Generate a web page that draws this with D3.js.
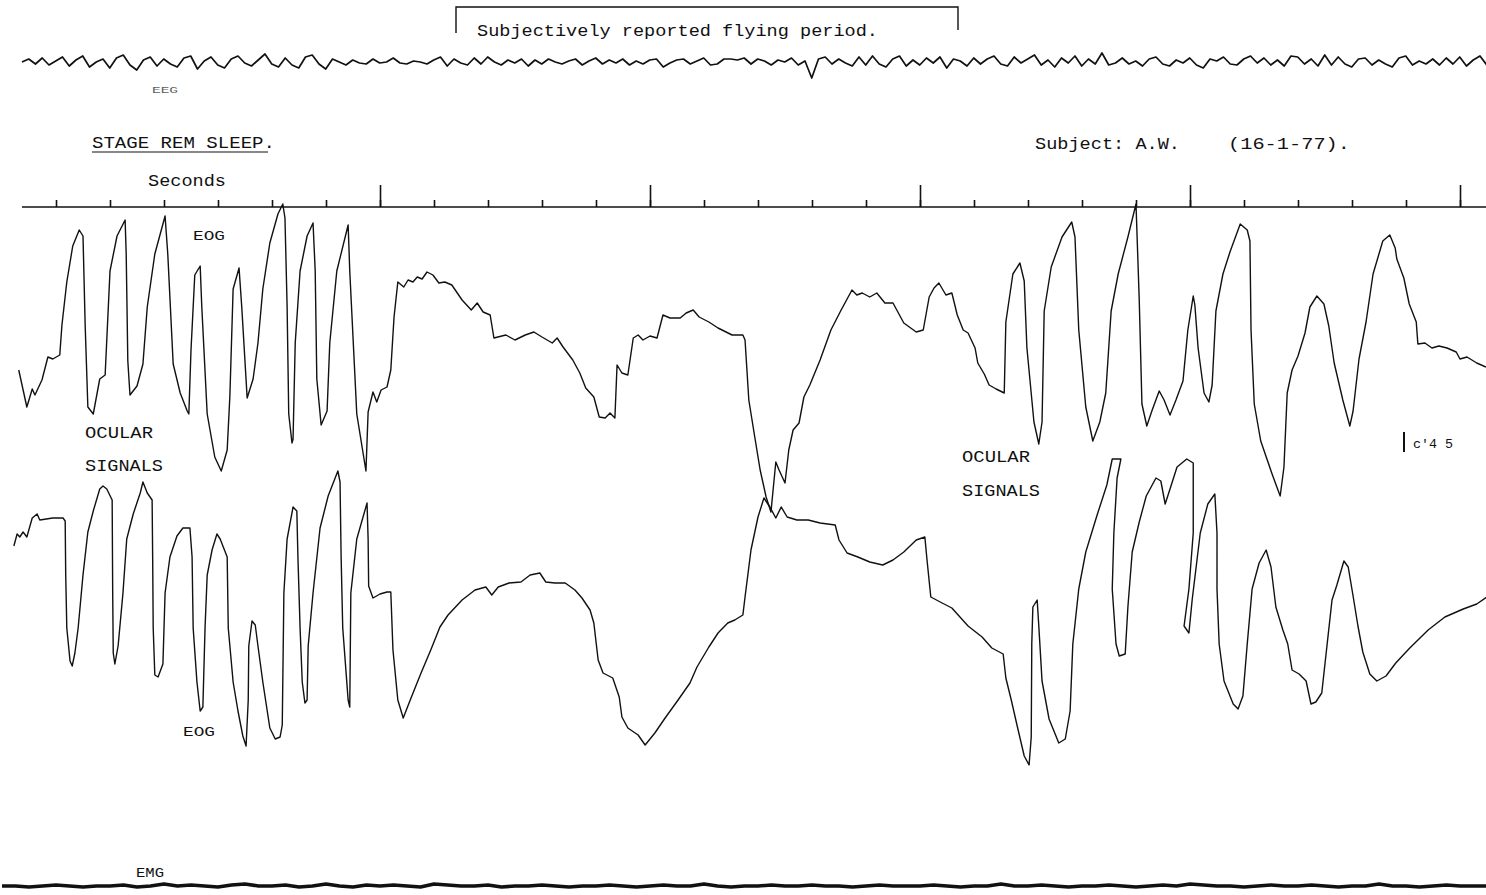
<!DOCTYPE html>
<html lang="en">
<head>
<meta charset="utf-8">
<title>Stage REM sleep - ocular signals</title>
<script src="https://cdn.jsdelivr.net/npm/d3@7"></script>
<style>
  html, body { margin: 0; padding: 0; background: #fff; }
  svg text { font-family: "Liberation Mono", "DejaVu Sans Mono", monospace; fill: #111; }
</style>
</head>
<body>
<script>
// ---- data (time in seconds, amplitude in arbitrary pen units) ----
var secondTicks = d3.range(1, 28);
var majorTicks = [7, 12, 17, 22, 27];

// upper EOG channel [t, deflection]
var eogUpper = [[0.31,-30],[0.46,-67],[0.56,-49],[0.61,-55],[0.74,-40],[0.85,-17],[0.94,-19],[1.07,-15],[1.11,15],[1.20,58],[1.31,94],[1.43,110],[1.50,104],[1.54,15],[1.59,-67],[1.69,-74],[1.81,-39],[1.91,-35],[2.00,69],[2.13,104],[2.28,120],[2.30,86],[2.33,-21],[2.37,-55],[2.50,-46],[2.61,-24],[2.69,33],[2.83,86],[3.02,124],[3.07,86],[3.17,-24],[3.30,-53],[3.43,-71],[3.46,-74],[3.50,-10],[3.57,65],[3.67,74],[3.70,33],[3.80,-74],[3.94,-117],[4.06,-131],[4.17,-110],[4.22,-56],[4.28,51],[4.39,72],[4.44,33],[4.54,-58],[4.65,-39],[4.74,-3],[4.83,51],[4.96,97],[5.11,126],[5.20,136],[5.24,122],[5.28,33],[5.31,-74],[5.37,-103],[5.39,-99],[5.43,-3],[5.52,69],[5.65,104],[5.76,117],[5.80,69],[5.83,-39],[5.91,-85],[6.02,-71],[6.07,-3],[6.20,69],[6.41,115],[6.44,69],[6.57,-74],[6.74,-131],[6.78,-72],[6.87,-52],[6.94,-62],[7.02,-50],[7.13,-47],[7.20,-30],[7.26,23],[7.33,58],[7.44,53],[7.52,60],[7.61,58],[7.69,63],[7.78,61],[7.87,68],[7.98,65],[8.09,57],[8.20,58],[8.33,55],[8.52,40],[8.69,30],[8.80,37],[8.91,28],[9.04,25],[9.11,2],[9.33,5],[9.50,0],[9.69,5],[9.85,8],[10.00,3],[10.19,-3],[10.28,2],[10.39,-7],[10.57,-20],[10.70,-33],[10.81,-48],[10.96,-57],[11.06,-77],[11.17,-78],[11.26,-73],[11.35,-78],[11.39,-25],[11.48,-33],[11.59,-35],[11.69,2],[11.78,5],[11.87,0],[12.00,4],[12.13,2],[12.24,25],[12.37,22],[12.56,22],[12.67,27],[12.80,30],[12.91,23],[13.09,18],[13.26,12],[13.52,5],[13.72,5],[13.76,0],[13.83,-60],[13.94,-97],[14.04,-130],[14.15,-157],[14.24,-172],[14.33,-122],[14.39,-130],[14.50,-143],[14.57,-110],[14.65,-90],[14.76,-83],[14.85,-57],[14.96,-45],[15.15,-20],[15.35,10],[15.54,30],[15.74,50],[15.83,45],[15.93,47],[16.07,43],[16.20,47],[16.35,37],[16.50,37],[16.70,17],[16.93,8],[17.06,10],[17.17,43],[17.26,52],[17.35,57],[17.48,45],[17.59,47],[17.69,25],[17.80,10],[17.89,7],[18.02,-8],[18.07,-23],[18.19,-34],[18.28,-45],[18.41,-49],[18.56,-53],[18.59,18],[18.72,66],[18.85,77],[18.93,59],[18.98,-8],[19.11,-82],[19.20,-104],[19.26,-82],[19.30,29],[19.43,73],[19.63,103],[19.81,118],[19.87,103],[19.94,10],[20.07,-67],[20.20,-101],[20.33,-82],[20.44,-53],[20.54,29],[20.67,66],[20.85,103],[21.00,136],[21.06,40],[21.11,-64],[21.20,-86],[21.30,-70],[21.43,-51],[21.52,-60],[21.63,-75],[21.74,-60],[21.87,-41],[21.96,10],[22.06,44],[22.09,35],[22.15,-8],[22.26,-53],[22.35,-62],[22.41,-45],[22.48,29],[22.61,66],[22.74,88],[22.93,116],[23.06,110],[23.11,99],[23.13,10],[23.19,-64],[23.31,-101],[23.52,-134],[23.67,-156],[23.74,-127],[23.80,-53],[23.89,-30],[24.00,-16],[24.13,7],[24.22,33],[24.35,44],[24.48,36],[24.57,14],[24.67,-23],[24.83,-60],[24.96,-86],[25.02,-71],[25.13,-19],[25.26,18],[25.39,66],[25.57,99],[25.70,105],[25.80,92],[25.83,81],[25.96,62],[26.06,36],[26.19,18],[26.22,-4],[26.35,-3],[26.48,-8],[26.61,-6],[26.76,-8],[26.93,-12],[27.00,-19],[27.13,-17],[27.31,-23],[27.48,-27]];

// lower EOG channel [t, deflection]
var eogLower = [[0.22,74],[0.28,86],[0.33,83],[0.39,88],[0.46,83],[0.56,102],[0.65,106],[0.70,100],[0.94,102],[1.13,102],[1.17,99],[1.18,45],[1.20,-8],[1.26,-41],[1.30,-46],[1.35,-33],[1.41,-8],[1.50,45],[1.59,88],[1.69,109],[1.81,131],[1.87,134],[1.94,131],[2.04,120],[2.05,27],[2.06,-33],[2.09,-44],[2.15,-26],[2.24,27],[2.31,81],[2.43,106],[2.56,127],[2.61,138],[2.69,127],[2.78,120],[2.79,63],[2.80,-8],[2.83,-55],[2.89,-57],[2.98,-44],[3.02,27],[3.11,63],[3.24,84],[3.35,92],[3.48,92],[3.52,63],[3.54,-8],[3.61,-62],[3.67,-91],[3.72,-87],[3.76,-8],[3.80,45],[3.89,70],[3.98,86],[4.04,81],[4.17,63],[4.19,-8],[4.28,-62],[4.37,-91],[4.46,-116],[4.52,-126],[4.56,-80],[4.57,-26],[4.63,-1],[4.69,-5],[4.74,-26],[4.83,-62],[4.96,-108],[5.06,-119],[5.15,-117],[5.19,-105],[5.22,27],[5.28,81],[5.39,113],[5.46,109],[5.48,63],[5.52,-8],[5.56,-62],[5.61,-83],[5.65,-80],[5.67,-26],[5.76,27],[5.89,92],[6.04,124],[6.22,149],[6.26,138],[6.28,63],[6.31,-8],[6.41,-80],[6.44,-87],[6.46,27],[6.57,81],[6.76,117],[6.78,81],[6.79,34],[6.87,22],[7.00,26],[7.13,28],[7.20,28],[7.24,-30],[7.33,-80],[7.43,-98],[7.56,-80],[7.76,-53],[7.94,-30],[8.11,-7],[8.26,5],[8.52,20],[8.76,30],[8.96,33],[9.07,25],[9.19,33],[9.39,37],[9.61,38],[9.78,45],[9.96,47],[10.07,38],[10.24,37],[10.43,37],[10.61,30],[10.74,22],[10.89,10],[10.96,-3],[11.04,-40],[11.13,-53],[11.31,-58],[11.43,-77],[11.48,-97],[11.59,-108],[11.78,-115],[11.91,-125],[12.09,-113],[12.28,-98],[12.52,-80],[12.74,-63],[12.87,-47],[13.09,-27],[13.26,-13],[13.44,-3],[13.57,0],[13.72,5],[13.76,23],[13.87,70],[14.00,103],[14.11,122],[14.22,113],[14.33,102],[14.43,113],[14.54,103],[14.72,100],[14.93,100],[15.15,97],[15.43,95],[15.50,80],[15.65,67],[15.85,63],[16.07,58],[16.31,55],[16.50,60],[16.70,68],[16.93,80],[17.09,83],[17.13,60],[17.20,23],[17.41,17],[17.59,12],[17.89,-6],[18.15,-17],[18.33,-28],[18.54,-34],[18.59,-58],[18.69,-80],[18.80,-106],[18.93,-136],[19.02,-145],[19.06,-117],[19.07,-24],[19.09,13],[19.17,20],[19.20,-6],[19.26,-61],[19.39,-99],[19.57,-123],[19.69,-119],[19.78,-91],[19.83,-24],[19.94,31],[20.07,68],[20.28,105],[20.46,135],[20.56,161],[20.72,161],[20.65,142],[20.59,87],[20.56,31],[20.63,-24],[20.69,-36],[20.80,-34],[20.85,13],[20.93,68],[21.06,98],[21.19,124],[21.37,142],[21.46,139],[21.54,116],[21.63,131],[21.76,153],[21.94,161],[22.06,157],[22.06,87],[21.98,31],[21.89,-6],[21.98,-13],[22.04,20],[22.19,87],[22.33,116],[22.46,126],[22.50,87],[22.50,31],[22.54,-24],[22.63,-61],[22.80,-84],[22.89,-89],[22.98,-76],[23.06,-24],[23.15,31],[23.28,57],[23.41,70],[23.50,53],[23.59,13],[23.72,-10],[23.81,-24],[23.89,-50],[24.02,-54],[24.15,-61],[24.24,-84],[24.33,-82],[24.44,-73],[24.54,-24],[24.63,20],[24.72,35],[24.85,59],[24.93,53],[25.02,24],[25.11,-6],[25.20,-32],[25.33,-54],[25.46,-61],[25.63,-56],[25.81,-43],[26.07,-28],[26.41,-10],[26.72,3],[27.06,11],[27.31,16],[27.50,23]];

// EEG, one reading every 0.125 s from t = 0.37
var eegStart = 0.37, eegStep = 0.125;
var eeg = [
  0,3,-2,4,-3,1,5,-4,2,6,-5,0,
  3,-6,4,7,-3,-8,2,5,-4,3,-2,-5,
  4,6,-7,1,5,-3,-6,3,6,-1,-4,2,
  8,-2,-5,4,-3,-6,5,7,-2,-7,3,0,
  -3,2,-1,-2,3,-1,0,4,-1,-2,1,0,
  -2,2,5,-4,3,-1,-3,4,-2,5,0,-3,
  2,-1,3,-4,2,-2,3,0,-2,1,3,-3,
  1,4,-2,2,-1,3,-3,1,-2,2,3,-5,
  -1,2,3,-2,1,4,-3,-2,3,3,2,4,
  -2,3,1,-3,2,0,4,-3,1,-16,3,5,
  -2,3,-1,-4,5,-3,6,-2,-5,3,6,-4,
  2,-3,4,-1,5,-6,3,1,-4,4,-2,3,
  6,-2,-4,5,-1,3,7,-3,2,-5,4,-1,
  6,-4,3,-2,9,-3,-1,4,-2,1,-4,3,
  5,-2,-4,2,-1,4,-3,-6,3,1,5,-2,
  -3,3,6,-1,4,-3,2,-4,6,5,-2,3,
  -4,7,-3,5,-2,-5,3,4,-3,2,-2,-5,
  4,6,-3,1,-2,3,-3,4,-2,5,-4,2,
  6,-3,1,-2
];

// EMG, one reading every 0.25 s from t = 0
var emgStep = 0.25;
var emg = [
  1,1,0,1,2,1,0,1,1,2,0,1,3,1,2,1,0,2,3,1,
  1,2,0,1,3,1,0,2,1,2,1,0,3,2,1,1,2,0,1,1,
  2,1,0,1,1,2,1,0,1,2,1,1,3,1,0,1,1,2,1,1,
  2,1,1,0,1,2,1,1,1,2,1,0,1,1,3,1,1,2,1,0,
  1,1,2,1,0,1,2,1,3,2,1,1,0,1,2,1,1,2,1,0,
  1,1,3,1,1,0,1,2,1,1,1
];

// ---- drawing ----
var W = 1486, H = 895;
var svg = d3.select("body").append("svg")
  .attr("width", W).attr("height", H)
  .style("background", "#fff");

var x = d3.scaleLinear().domain([0, 27.5]).range([2, 1487]);
var yUpper = d3.scaleLinear().domain([-150, 150]).range([490, 190]);
var yLower = d3.scaleLinear().domain([-150, 150]).range([770, 470]);
var yEeg = d3.scaleLinear().domain([-30, 30]).range([92, 32]);
var yEmg = d3.scaleLinear().domain([-10, 10]).range([897, 877]);

function trace(data, ys, width) {
  var line = d3.line()
    .x(function(d) { return x(d[0]); })
    .y(function(d) { return ys(d[1]); });
  svg.append("path")
    .datum(data)
    .attr("d", line)
    .attr("fill", "none")
    .attr("stroke", "#111")
    .attr("stroke-width", width)
    .attr("stroke-linejoin", "round");
}

trace(eogUpper, yUpper, 1.4);
trace(eogLower, yLower, 1.4);
trace(eeg.map(function(v, i) { return [eegStart + i * eegStep, v]; }), yEeg, 1.7);
trace(emg.map(function(v, i) { return [i * emgStep, v]; }), yEmg, 3.5);

// time marker line with second ticks
var timeAxisY = 207;
svg.append("line")
  .attr("x1", x(0.37)).attr("x2", x(27.5))
  .attr("y1", timeAxisY).attr("y2", timeAxisY)
  .attr("stroke", "#111").attr("stroke-width", 1.6);

var minorAxis = d3.axisTop(x).tickValues(secondTicks).tickSize(7).tickFormat("");
var majorAxis = d3.axisTop(x).tickValues(majorTicks).tickSize(22).tickFormat("");
[minorAxis, majorAxis].forEach(function(ax) {
  var g = svg.append("g").attr("transform", "translate(0," + timeAxisY + ")").call(ax);
  g.select(".domain").remove();
  g.selectAll("line").attr("stroke", "#111").attr("stroke-width", 1.6);
});

// bracket for the reported flying period
svg.append("path")
  .attr("d", "M456,33 V7 H958 V30")
  .attr("fill", "none").attr("stroke", "#111").attr("stroke-width", 1.4);

function label(txt, px, py, size, len) {
  var t = svg.append("text").attr("x", px).attr("y", py)
    .attr("font-size", size).text(txt);
  if (len) t.attr("textLength", len).attr("lengthAdjust", "spacingAndGlyphs");
  return t;
}

label("Subjectively reported flying period.", 477, 36, 17, 401);
label("EEG", 152, 93, 9, 26).style("opacity", 0.7);
label("STAGE REM SLEEP.", 92, 148, 17, 183);
svg.append("line").attr("x1", 92).attr("x2", 268).attr("y1", 152).attr("y2", 152)
  .attr("stroke", "#111").attr("stroke-width", 1.2);
label("Subject: A.W.", 1035, 149, 17, 145);
label("(16-1-77).", 1228, 149, 17, 122);
label("Seconds", 148, 186, 17, 78);
label("EOG", 193, 240, 13, 32);
label("OCULAR", 85, 438, 17, 68);
label("SIGNALS", 85, 471, 17, 78);
label("OCULAR", 962, 462, 17, 68);
label("SIGNALS", 962, 496, 17, 78);
label("EOG", 183, 736, 13, 32);
label("EMG", 136, 877, 12, 28);

// calibration mark
svg.append("line").attr("x1", 1404).attr("x2", 1404).attr("y1", 432).attr("y2", 452)
  .attr("stroke", "#111").attr("stroke-width", 2);
label("c'4 5", 1413, 448, 12, 40);
</script>
</body>
</html>
